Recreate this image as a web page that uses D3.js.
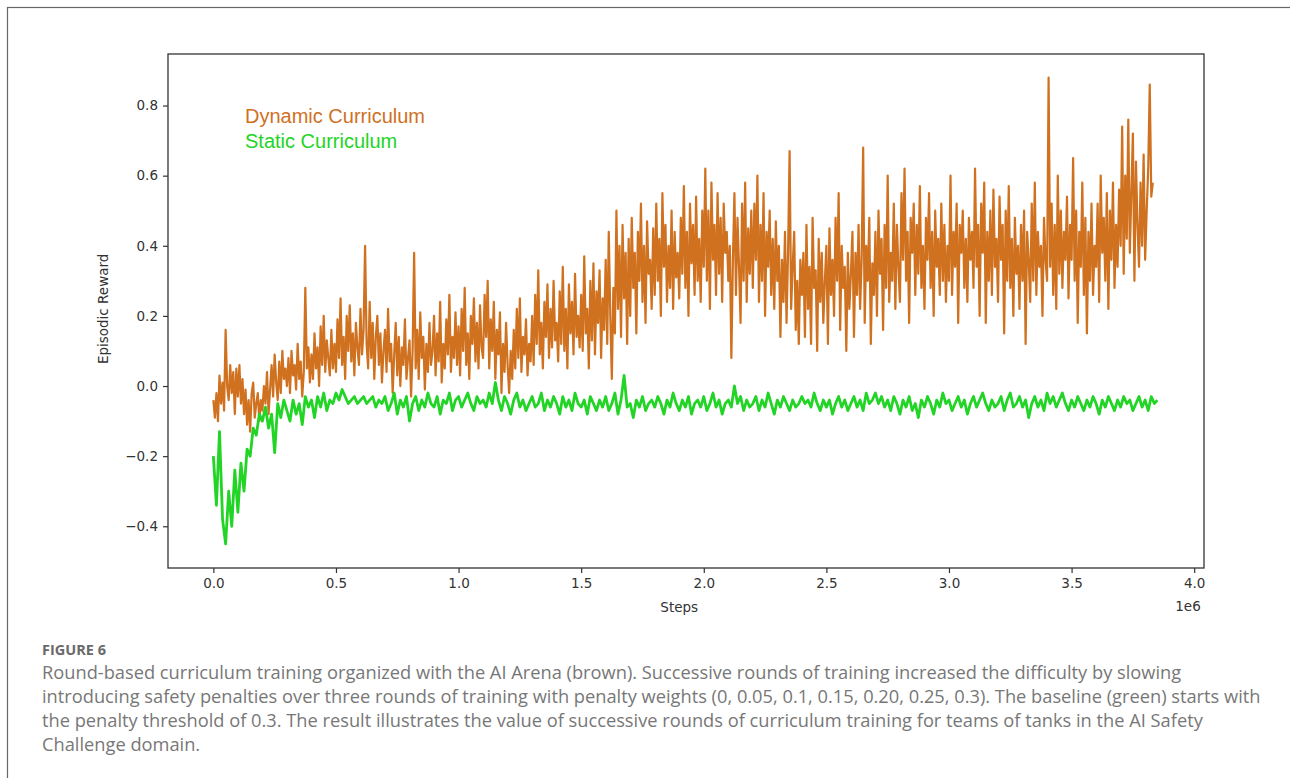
<!DOCTYPE html>
<html>
<head>
<meta charset="utf-8">
<script src="https://cdn.jsdelivr.net/npm/d3@7"></script>
<style>
  html, body { margin: 0; padding: 0; background: #fff; }
  svg { display: block; }
</style>
</head>
<body>
<svg id="chart"></svg>
<script>
// steps between logged points
const dynamicInterval = 6250;
const staticInterval = 12500;

// Dynamic Curriculum (brown), episodic reward, 16 points per 0.1e6 steps
const dynamicReward = [
  -0.04, -0.09, -0.02, -0.10, 0.03, -0.05, 0.01, -0.07, 0.16, 0.00, -0.04, 0.06, -0.02, 0.04, -0.08, 0.05,
  -0.03, 0.06, -0.05, 0.02, -0.08, -0.01, -0.11, -0.04, -0.13, -0.02, 0.01, -0.09, -0.05, -0.02, -0.10, -0.04,
  -0.07, 0.00, -0.05, 0.04, -0.08, -0.01, 0.06, -0.03, 0.09, 0.01, -0.04, 0.07, -0.02, 0.10, 0.02, 0.05,
  0.00, 0.08, -0.02, 0.10, 0.03, 0.06, -0.01, 0.12, 0.02, 0.07, -0.03, 0.04, 0.28, 0.05, 0.11, 0.01,
  0.09, 0.02, 0.15, 0.05, 0.11, 0.00, 0.17, 0.06, 0.20, 0.04, 0.13, 0.08, 0.03, 0.16, 0.05, 0.12,
  0.04, 0.19, 0.08, 0.25, 0.06, 0.14, 0.02, 0.20, 0.10, 0.23, 0.07, 0.15, 0.03, 0.18, 0.11, 0.06,
  0.22, 0.09, 0.16, 0.40, 0.12, 0.05, 0.24, 0.08, 0.18, 0.02, 0.14, 0.20, 0.06, 0.15, 0.01, 0.10,
  0.16, 0.04, 0.22, 0.07, 0.12, -0.02, 0.09, 0.18, 0.03, 0.14, 0.00, 0.11, 0.06, 0.19, 0.02, 0.08,
  0.13, -0.03, 0.10, 0.38, 0.05, 0.16, 0.02, 0.21, 0.08, 0.14, -0.01, 0.12, 0.04, 0.18, 0.06, 0.10,
  0.20, 0.03, 0.15, 0.07, 0.24, 0.01, 0.12, 0.05, 0.19, 0.09, 0.26, 0.04, 0.14, 0.08, 0.21, 0.06,
  0.17, 0.03, 0.22, 0.10, 0.28, 0.06, 0.15, 0.02, 0.20, 0.12, 0.25, 0.07, 0.18, 0.05, 0.23, 0.11,
  0.08, 0.26, 0.14, 0.30, 0.05, 0.19, 0.10, 0.24, 0.02, 0.16, 0.09, 0.21, -0.02, 0.12, 0.04, 0.18,
  0.06, -0.02, 0.10, 0.02, 0.16, 0.05, 0.22, 0.08, 0.25, 0.04, 0.14, 0.09, 0.19, 0.03, 0.12, 0.07,
  0.20, 0.06, 0.26, 0.12, 0.33, 0.09, 0.18, 0.05, 0.24, 0.14, 0.29, 0.08, 0.22, 0.11, 0.30, 0.13,
  0.18, 0.07, 0.27, 0.12, 0.34, 0.10, 0.22, 0.05, 0.29, 0.15, 0.24, 0.09, 0.32, 0.14, 0.20, 0.11,
  0.26, 0.10, 0.37, 0.15, 0.22, 0.05, 0.30, 0.13, 0.35, 0.09, 0.27, 0.18, 0.33, 0.08, 0.25, 0.16,
  0.36, 0.12, 0.44, 0.20, 0.02, 0.28, 0.15, 0.50, 0.22, 0.40, 0.14, 0.46, 0.25, 0.38, 0.12, 0.42,
  0.20, 0.48, 0.28, 0.38, 0.15, 0.44, 0.30, 0.52, 0.24, 0.40, 0.18, 0.47, 0.32, 0.36, 0.22, 0.45,
  0.26, 0.52, 0.30, 0.42, 0.20, 0.55, 0.34, 0.46, 0.24, 0.40, 0.28, 0.50, 0.22, 0.44, 0.31, 0.38,
  0.25, 0.48, 0.32, 0.57, 0.28, 0.44, 0.20, 0.52, 0.35, 0.46, 0.26, 0.54, 0.30, 0.42, 0.24, 0.50,
  0.34, 0.62, 0.30, 0.50, 0.22, 0.58, 0.36, 0.46, 0.26, 0.55, 0.32, 0.48, 0.24, 0.52, 0.38, 0.44,
  0.30, 0.40, 0.08, 0.36, 0.55, 0.26, 0.48, 0.34, 0.18, 0.52, 0.30, 0.58, 0.24, 0.45, 0.32, 0.50,
  0.28, 0.52, 0.36, 0.60, 0.24, 0.46, 0.30, 0.55, 0.20, 0.44, 0.34, 0.50, 0.26, 0.42, 0.22, 0.47,
  0.30, 0.40, 0.14, 0.36, 0.24, 0.44, 0.18, 0.38, 0.67, 0.22, 0.34, 0.44, 0.16, 0.30, 0.12, 0.36,
  0.26, 0.38, 0.14, 0.46, 0.22, 0.34, 0.12, 0.48, 0.28, 0.33, 0.10, 0.42, 0.24, 0.38, 0.18, 0.30,
  0.40, 0.12, 0.45, 0.26, 0.36, 0.20, 0.48, 0.30, 0.55, 0.16, 0.40, 0.28, 0.34, 0.10, 0.38, 0.22,
  0.32, 0.44, 0.14, 0.38, 0.26, 0.46, 0.22, 0.36, 0.68, 0.18, 0.40, 0.30, 0.48, 0.12, 0.35, 0.26,
  0.44, 0.20, 0.50, 0.32, 0.42, 0.16, 0.46, 0.28, 0.60, 0.24, 0.38, 0.30, 0.52, 0.22, 0.46, 0.34,
  0.24, 0.55, 0.36, 0.62, 0.30, 0.44, 0.18, 0.48, 0.38, 0.52, 0.26, 0.46, 0.32, 0.57, 0.28, 0.40,
  0.22, 0.48, 0.36, 0.55, 0.28, 0.44, 0.20, 0.50, 0.34, 0.42, 0.26, 0.52, 0.30, 0.46, 0.24, 0.40,
  0.30, 0.60, 0.26, 0.44, 0.34, 0.52, 0.18, 0.46, 0.38, 0.50, 0.28, 0.42, 0.24, 0.48, 0.36, 0.44,
  0.28, 0.62, 0.34, 0.46, 0.20, 0.52, 0.38, 0.58, 0.18, 0.44, 0.30, 0.50, 0.26, 0.56, 0.34, 0.42,
  0.24, 0.54, 0.36, 0.46, 0.15, 0.50, 0.30, 0.57, 0.28, 0.42, 0.20, 0.48, 0.32, 0.40, 0.22, 0.46,
  0.30, 0.50, 0.12, 0.44, 0.36, 0.24, 0.52, 0.30, 0.58, 0.26, 0.44, 0.34, 0.40, 0.20, 0.48, 0.36,
  0.30, 0.88, 0.34, 0.52, 0.26, 0.46, 0.22, 0.60, 0.32, 0.50, 0.28, 0.44, 0.36, 0.54, 0.25, 0.46,
  0.36, 0.65, 0.30, 0.50, 0.18, 0.44, 0.34, 0.58, 0.26, 0.48, 0.15, 0.44, 0.30, 0.52, 0.26, 0.40,
  0.34, 0.52, 0.24, 0.60, 0.38, 0.48, 0.30, 0.55, 0.22, 0.50, 0.36, 0.58, 0.28, 0.46, 0.34, 0.56,
  0.40, 0.74, 0.32, 0.60, 0.42, 0.76, 0.38, 0.55, 0.72, 0.30, 0.64, 0.46, 0.34, 0.58, 0.40, 0.66,
  0.36, 0.50, 0.62, 0.86, 0.54, 0.58
];

// Static Curriculum (green) baseline, 8 points per 0.1e6 steps
const staticReward = [
  -0.20, -0.34, -0.13, -0.38, -0.45, -0.30, -0.40, -0.24,
  -0.36, -0.22, -0.30, -0.18, -0.20, -0.12, -0.14, -0.08,
  -0.10, -0.06, -0.12, -0.08, -0.19, -0.05, -0.09, -0.04,
  -0.07, -0.10, -0.04, -0.08, -0.05, -0.11, -0.03, -0.06,
  -0.04, -0.09, -0.03, -0.06, -0.02, -0.07, -0.04, -0.05,
  -0.02, -0.04, -0.01, -0.03, -0.05, -0.04, -0.03, -0.05,
  -0.04, -0.03, -0.05, -0.04, -0.03, -0.06, -0.04, -0.05,
  -0.03, -0.07, -0.05, -0.02, -0.08, -0.04, -0.06, -0.03,
  -0.10, -0.05, -0.03, -0.07, -0.04, -0.06, -0.02, -0.05,
  -0.06, -0.03, -0.08, -0.04, -0.05, -0.02, -0.07, -0.04,
  -0.03, -0.06, -0.04, -0.02, -0.05, -0.07, -0.03, -0.05,
  -0.04, -0.06, -0.02, -0.05, 0.01, -0.04, -0.07, -0.03,
  -0.05, -0.08, -0.04, -0.02, -0.06, -0.04, -0.07, -0.05,
  -0.03, -0.06, -0.05, -0.02, -0.07, -0.04, -0.06, -0.03,
  -0.05, -0.08, -0.03, -0.06, -0.04, -0.07, -0.02, -0.05,
  -0.06, -0.04, -0.08, -0.03, -0.05, -0.07, -0.04, -0.06,
  -0.03, -0.07, -0.05, -0.02, -0.08, -0.04, 0.03, -0.06,
  -0.05, -0.09, -0.04, -0.06, -0.03, -0.07, -0.05, -0.04,
  -0.06, -0.03, -0.05, -0.08, -0.04, -0.06, -0.02, -0.05,
  -0.07, -0.04, -0.06, -0.03, -0.08, -0.05, -0.04, -0.06,
  -0.03, -0.07, -0.05, -0.02, -0.06, -0.04, -0.08, -0.05,
  -0.04, -0.06, 0.00, -0.05, -0.03, -0.07, -0.04, -0.06,
  -0.05, -0.03, -0.07, -0.04, -0.06, -0.02, -0.05, -0.08,
  -0.04, -0.06, -0.03, -0.05, -0.07, -0.04, -0.06, -0.05,
  -0.03, -0.05, -0.04, -0.06, -0.02, -0.05, -0.07, -0.04,
  -0.06, -0.04, -0.08, -0.05, -0.03, -0.06, -0.04, -0.07,
  -0.05, -0.03, -0.06, -0.04, -0.07, -0.02, -0.05, -0.04,
  -0.02, -0.05, -0.03, -0.06, -0.04, -0.07, -0.03, -0.05,
  -0.08, -0.04, -0.06, -0.03, -0.07, -0.05, -0.09, -0.04,
  -0.06, -0.03, -0.05, -0.08, -0.04, -0.06, -0.02, -0.05,
  -0.04, -0.07, -0.05, -0.03, -0.06, -0.04, -0.08, -0.05,
  -0.03, -0.06, -0.04, -0.02, -0.05, -0.07, -0.04, -0.06,
  -0.05, -0.03, -0.07, -0.04, -0.02, -0.06, -0.05, -0.03,
  -0.06, -0.04, -0.09, -0.05, -0.03, -0.06, -0.04, -0.07,
  -0.02, -0.05, -0.03, -0.06, -0.04, -0.02, -0.05, -0.07,
  -0.04, -0.06, -0.03, -0.05, -0.07, -0.04, -0.06, -0.03,
  -0.05, -0.08, -0.04, -0.06, -0.03, -0.05, -0.07, -0.04,
  -0.06, -0.03, -0.05, -0.04, -0.07, -0.05, -0.03, -0.06,
  -0.04, -0.07, -0.03, -0.05, -0.04
];

const xTicks = [0, 0.5e6, 1.0e6, 1.5e6, 2.0e6, 2.5e6, 3.0e6, 3.5e6, 4.0e6];
const yTicks = [-0.4, -0.2, 0.0, 0.2, 0.4, 0.6, 0.8];

const seriesNames = ["Dynamic Curriculum", "Static Curriculum"];
const seriesColors = ["#d0711f", "#22d425"];

const captionLabel = "FIGURE 6";
const captionLines = [
  "Round-based curriculum training organized with the AI Arena (brown). Successive rounds of training increased the difficulty by slowing",
  "introducing safety penalties over three rounds of training with penalty weights (0, 0.05, 0.1, 0.15, 0.20, 0.25, 0.3). The baseline (green) starts with",
  "the penalty threshold of 0.3. The result illustrates the value of successive rounds of curriculum training for teams of tanks in the AI Safety",
  "Challenge domain."
];

const W = 1290, H = 778;
const svg = d3.select("#chart").attr("width", W).attr("height", H);

// outer figure box (cut off on the right / bottom like the page)
svg.append("rect")
  .attr("x", 7.5).attr("y", 7.5)
  .attr("width", W).attr("height", H)
  .attr("fill", "none")
  .attr("stroke", "#666")
  .attr("stroke-width", 1.2);

// plot area
const plot = { left: 168, right: 1204, top: 54, bottom: 568 };

const x = d3.scaleLinear()
  .domain([-0.185e6, 4.04e6])
  .range([plot.left, plot.right]);

const y = d3.scaleLinear()
  .domain([-0.519, 0.947])
  .range([plot.bottom, plot.top]);

const tickFont = "'DejaVu Sans', sans-serif";

// lines
const line = d3.line()
  .x(d => x(d.step))
  .y(d => y(d.value));

const dynamicData = dynamicReward.map((v, i) => ({ step: i * dynamicInterval, value: v }));
const staticData = staticReward.map((v, i) => ({ step: i * staticInterval, value: v }));

svg.append("path")
  .datum(dynamicData)
  .attr("d", line)
  .attr("fill", "none")
  .attr("stroke", seriesColors[0])
  .attr("stroke-width", 2.2)
  .attr("stroke-linejoin", "round");

svg.append("path")
  .datum(staticData)
  .attr("d", line)
  .attr("fill", "none")
  .attr("stroke", seriesColors[1])
  .attr("stroke-width", 2.8)
  .attr("stroke-linejoin", "round");

// axes
const xAxis = svg.append("g")
  .attr("transform", `translate(0,${plot.bottom})`)
  .call(d3.axisBottom(x)
    .tickValues(xTicks)
    .tickFormat(d => (d / 1e6).toFixed(1))
    .tickSize(5)
    .tickPadding(5)
    .tickSizeOuter(0));

const yAxis = svg.append("g")
  .attr("transform", `translate(${plot.left},0)`)
  .call(d3.axisLeft(y)
    .tickValues(yTicks)
    .tickFormat(d => d3.format(".1f")(d).replace("-", "\u2212"))
    .tickSize(5)
    .tickPadding(5)
    .tickSizeOuter(0));

[xAxis, yAxis].forEach(g => {
  g.select(".domain").remove();
  g.selectAll(".tick line").attr("stroke", "#333").attr("stroke-width", 1.2);
  g.selectAll(".tick text")
    .attr("fill", "#333")
    .style("font-family", tickFont)
    .style("font-size", "13.5px");
});

// frame
svg.append("rect")
  .attr("x", plot.left).attr("y", plot.top)
  .attr("width", plot.right - plot.left)
  .attr("height", plot.bottom - plot.top)
  .attr("fill", "none")
  .attr("stroke", "#333")
  .attr("stroke-width", 1.3);

// axis labels
svg.append("text")
  .attr("x", x(1.9e6)).attr("y", 612)
  .attr("text-anchor", "middle")
  .attr("fill", "#333")
  .style("font-family", tickFont)
  .style("font-size", "13.5px")
  .text("Steps");

svg.append("text")
  .attr("x", 1188).attr("y", 611)
  .attr("text-anchor", "middle")
  .attr("fill", "#333")
  .style("font-family", tickFont)
  .style("font-size", "13.5px")
  .text("1e6");

svg.append("text")
  .attr("transform", `translate(108,${y(0.22)}) rotate(-90)`)
  .attr("text-anchor", "middle")
  .attr("fill", "#333")
  .style("font-family", tickFont)
  .style("font-size", "13.5px")
  .text("Episodic Reward");

// legend (text only, coloured)
seriesNames.forEach((name, i) => {
  svg.append("text")
    .attr("x", 245)
    .attr("y", 123 + i * 25)
    .attr("fill", seriesColors[i])
    .style("font-family", "'Liberation Sans', Arial, sans-serif")
    .style("font-size", "20px")
    .text(name);
});

// caption
svg.append("text")
  .attr("x", 42).attr("y", 655)
  .attr("fill", "#6a6a6a")
  .style("font-family", "'Open Sans', sans-serif")
  .style("font-weight", 700)
  .style("font-size", "14.5px")
  .text(captionLabel);

const cap = svg.append("g")
  .attr("fill", "#777")
  .style("font-family", "'Open Sans', sans-serif");

captionLines.forEach((t, i) => {
  cap.append("text")
    .attr("x", 42)
    .attr("y", 679 + i * 24)
    .style("font-size", "17px")
    .text(t);
});

// fit the first caption line to the width seen in the figure
const firstLen = cap.select("text").node().getComputedTextLength();
const capSize = 17 * 1140 / firstLen;
cap.selectAll("text").style("font-size", capSize.toFixed(2) + "px");
</script>
</body>
</html>
